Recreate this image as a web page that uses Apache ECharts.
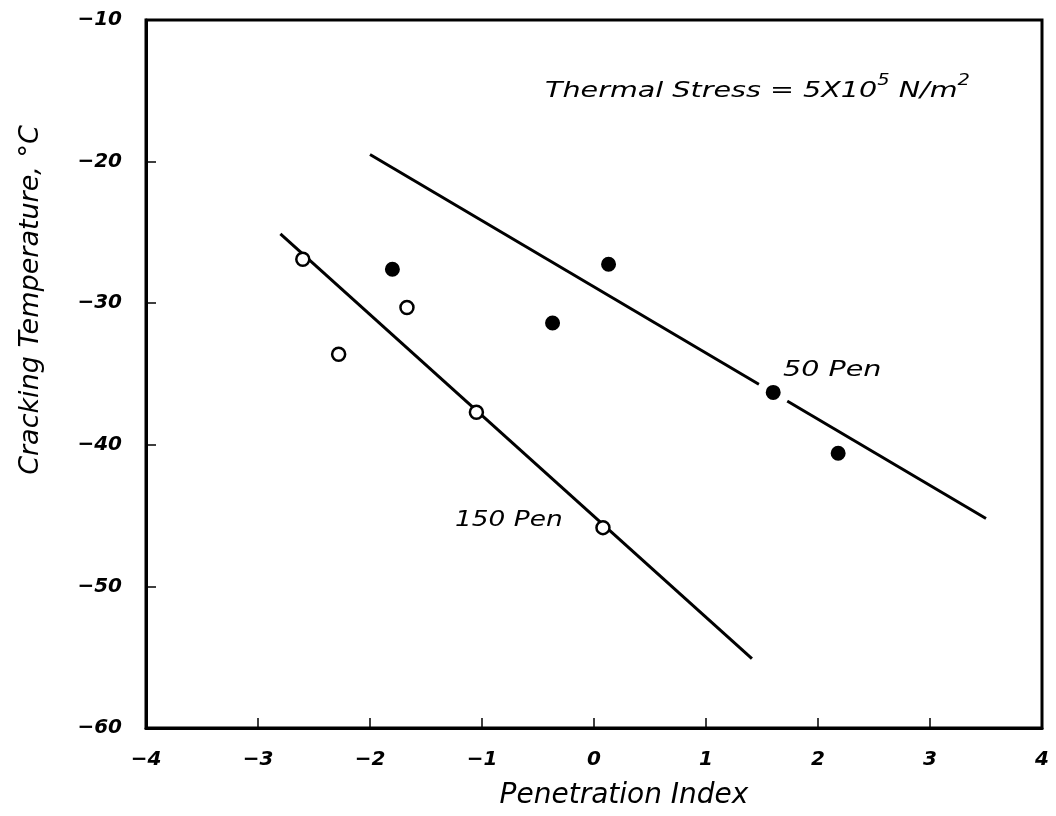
<!DOCTYPE html>
<html>
<head>
<meta charset="utf-8">
<script src="https://cdn.jsdelivr.net/npm/echarts@6/dist/echarts.min.js"></script>
<style>html,body{margin:0;padding:0;background:#fff}#c{width:1056px;height:816px}</style>
</head>
<body>
<div id="c"></div>
<script>
// ---- data ----
const xTicks = [-4, -3, -2, -1, 0, 1, 2, 3, 4];
const yTicks = [-60, -50, -40, -30, -20, -10];
// 150 Pen (open circles)
const pen150Points = [[-2.6, -26.9], [-2.28, -33.6], [-1.67, -30.3], [-1.05, -37.7], [0.08, -45.85]];
// 50 Pen (filled circles)
const pen50Points = [[-1.80, -27.6], [-0.37, -31.4], [0.13, -27.25], [1.60, -36.3], [2.18, -40.6]];
// fitted lines (end points)
const pen150Line = [[-2.80, -25.1], [1.41, -55.1]];
const pen50Line = [[-2.00, -19.5], [3.50, -45.2]];
const xTitle = 'Penetration Index';
const yTitle = 'Cracking Temperature, °C';

const FONT = 'DejaVu Sans';
const fmt = v => (v < 0 ? '\u2212' + Math.abs(v) : String(v));

const chart = echarts.init(document.getElementById('c'));
chart.setOption({
  backgroundColor: '#fff',
  animation: false,
  grid: { left: 146, right: 14, top: 20, bottom: 88, show: true, borderColor: '#000', borderWidth: 3 },
  xAxis: {
    type: 'value', min: xTicks[0], max: xTicks[xTicks.length - 1], interval: 1,
    name: xTitle, nameLocation: 'middle', nameGap: 54,
    nameTextStyle: { fontFamily: FONT, fontStyle: 'italic', fontSize: 28, color: '#000', padding: [0, 0, 0, 60] },
    axisLine: { show: true, onZero: false, lineStyle: { color: '#000', width: 3 } },
    axisTick: { show: true, inside: true, length: 10, lineStyle: { color: '#000', width: 1.5 } },
    axisLabel: { formatter: fmt, margin: 22, fontFamily: FONT, fontStyle: 'italic', fontWeight: 'bold', fontSize: 20, color: '#000' },
    splitLine: { show: false }
  },
  yAxis: {
    type: 'value', min: yTicks[0], max: yTicks[yTicks.length - 1], interval: 10,
    name: yTitle, nameLocation: 'middle', nameGap: 102, nameRotate: 90,
    nameTextStyle: { fontFamily: FONT, fontStyle: 'italic', fontSize: 27, color: '#000', padding: [0, 0, 0, 148] },
    axisLine: { show: true, onZero: false, lineStyle: { color: '#000', width: 3 } },
    axisTick: { show: true, inside: true, length: 10, lineStyle: { color: '#000', width: 1.5 } },
    axisLabel: { formatter: fmt, margin: 24, fontFamily: FONT, fontStyle: 'italic', fontWeight: 'bold', fontSize: 20, color: '#000' },
    splitLine: { show: false }
  },
  series: [
    { name: '150 Pen fit', type: 'line', data: pen150Line, symbol: 'none', z: 2,
      lineStyle: { color: '#000', width: 3 }, emphasis: { disabled: true } },
    { name: '50 Pen fit', type: 'line', data: pen50Line, symbol: 'none', z: 2,
      lineStyle: { color: '#000', width: 3 }, emphasis: { disabled: true } },
    { name: '150 Pen', type: 'scatter', data: pen150Points, symbol: 'circle', symbolSize: 13, z: 5,
      emphasis: { disabled: true },
      itemStyle: { color: '#fff', borderColor: '#000', borderWidth: 2.5, opacity: 1 } },
    { name: '50 Pen', type: 'scatter', symbol: 'circle', symbolSize: 18, z: 5,
      emphasis: { disabled: true },
      data: pen50Points.map((p, i) => i === 3 ? { value: p, symbolSize: 24, itemStyle: { borderWidth: 9 } } : p),
      itemStyle: { color: '#000', borderColor: '#fff', borderWidth: 3, opacity: 1 } }
  ],
  graphic: [
    { type: 'text', left: 545, top: 74, z: 10, scaleX: 1.3,
      style: {
        text: '{t|Thermal Stress = 5X10}{s|5}{t| N/m}{s|2}',
        rich: {
          t: { fontFamily: FONT, fontStyle: 'italic', fontSize: 22, fill: '#000', verticalAlign: 'bottom', lineHeight: 28 },
          s: { fontFamily: FONT, fontStyle: 'italic', fontSize: 15, fill: '#000', verticalAlign: 'top', lineHeight: 28, padding: [0, 0, 10, 0] }
        }
      } },
    { type: 'text', left: 783, top: 359, z: 10, scaleX: 1.3,
      style: { text: '50 Pen', fontFamily: FONT, fontStyle: 'italic', fontSize: 22, fill: '#000' } },
    { type: 'text', left: 455, top: 509, z: 10, scaleX: 1.2,
      style: { text: '150 Pen', fontFamily: FONT, fontStyle: 'italic', fontSize: 22, fill: '#000' } }
  ]
});
</script>
</body>
</html>
